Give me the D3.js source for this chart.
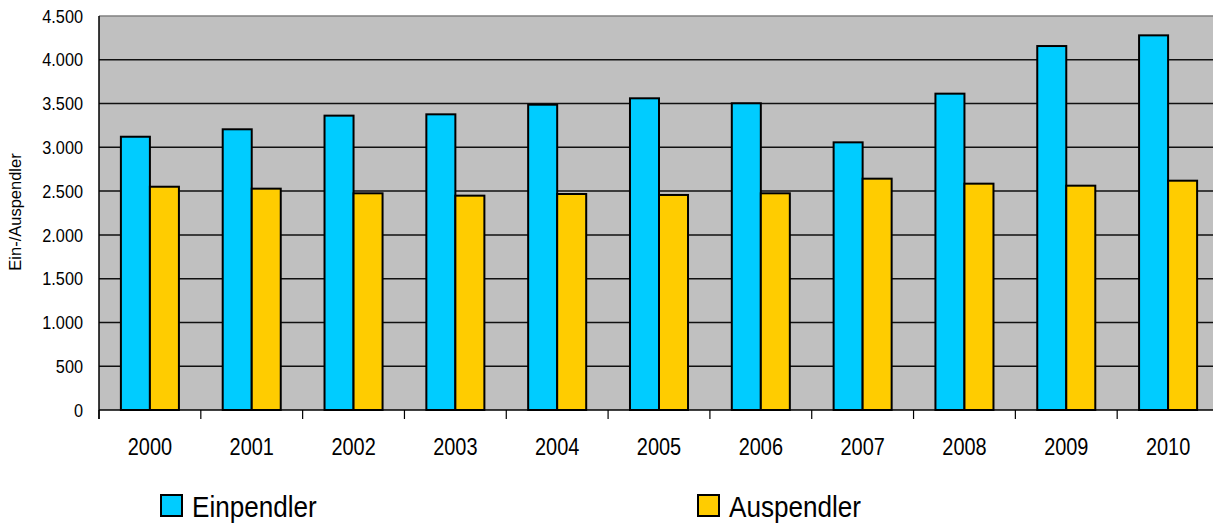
<!DOCTYPE html>
<html>
<head>
<meta charset="utf-8">
<script src="https://cdn.jsdelivr.net/npm/d3@7"></script>
<style>
  html, body { margin: 0; padding: 0; background: #fff; }
  svg { display: block; font-family: "Liberation Sans", Arial, sans-serif; }
</style>
</head>
<body>
<div id="chart"></div>
<script>
const years = ['2000', '2001', '2002', '2003', '2004', '2005', '2006', '2007', '2008', '2009', '2010'];
const series = ['Einpendler', 'Auspendler'];
const einpendler = [3121, 3206, 3362, 3377, 3487, 3560, 3503, 3057, 3613, 4157, 4279];
const auspendler = [2550, 2528, 2475, 2448, 2467, 2456, 2475, 2642, 2585, 2562, 2619];
const yTicks = [0, 500, 1000, 1500, 2000, 2500, 3000, 3500, 4000, 4500];
const colors = ['#00CCFF', '#FFCC00'];

const W = 1213, H = 525;
const margin = { top: 16, left: 99 };
const plotW = 1120, plotH = 394;

const svg = d3.select('#chart').append('svg')
  .attr('width', W).attr('height', H);

const x = d3.scaleBand().domain(years).range([margin.left, margin.left + plotW]);
const xs = d3.scaleBand().domain(series)
  .range([x.bandwidth() * 0.215, x.bandwidth() * 0.785]);
const y = d3.scaleLinear().domain([0, 4500]).range([margin.top + plotH, margin.top]);

const fmt = d => d3.format(',')(d).replace(/,/g, '.');

// the original uses a narrow font, squeeze Liberation Sans to get close
const narrow = (px, py, s) => `translate(${px},${py}) scale(${s},1)`;

// plot background
svg.append('rect')
  .attr('x', margin.left).attr('y', margin.top)
  .attr('width', plotW).attr('height', plotH)
  .attr('fill', '#C0C0C0');

// top border
svg.append('line')
  .attr('x1', margin.left).attr('x2', margin.left + plotW)
  .attr('y1', y(4500)).attr('y2', y(4500))
  .attr('stroke', '#808080').attr('stroke-width', 1.5);

// gridlines
svg.append('g').selectAll('line')
  .data(yTicks.filter(d => d > 0 && d < 4500))
  .join('line')
  .attr('x1', margin.left).attr('x2', margin.left + plotW)
  .attr('y1', d => y(d)).attr('y2', d => y(d))
  .attr('stroke', '#111').attr('stroke-width', 1.5);

// bars
const data = years.map((yr, i) => ({ year: yr, values: [einpendler[i], auspendler[i]] }));
svg.append('g').selectAll('g')
  .data(data)
  .join('g')
  .attr('transform', d => `translate(${x(d.year)},0)`)
  .selectAll('rect')
  .data(d => d.values.map((v, j) => ({ key: series[j], value: v, color: colors[j] })))
  .join('rect')
  .attr('x', d => xs(d.key))
  .attr('y', d => y(d.value))
  .attr('width', xs.bandwidth())
  .attr('height', d => y(0) - y(d.value))
  .attr('fill', d => d.color)
  .attr('stroke', '#000')
  .attr('stroke-width', 2);

// x axis
const xAxis = svg.append('g')
  .attr('transform', `translate(0,${y(0)})`);
xAxis.append('line')
  .attr('x1', margin.left).attr('x2', margin.left + plotW)
  .attr('stroke', '#000').attr('stroke-width', 1.5);
xAxis.selectAll('.tick')
  .data(years.map(d => x(d)))
  .join('line')
  .attr('x1', d => d).attr('x2', d => d)
  .attr('y1', 0).attr('y2', 9)
  .attr('stroke', '#000').attr('stroke-width', 1.2);
xAxis.selectAll('text')
  .data(years)
  .join('text')
  .attr('transform', d => narrow(x(d) + x.bandwidth() / 2, 45, 0.83))
  .attr('text-anchor', 'middle')
  .style('font-size', '24px')
  .attr('fill', '#000')
  .text(d => d);

// y axis
const yAxis = svg.append('g');
yAxis.append('line')
  .attr('x1', margin.left).attr('x2', margin.left)
  .attr('y1', margin.top).attr('y2', y(0) + 9)
  .attr('stroke', '#000').attr('stroke-width', 1.5);
yAxis.selectAll('text')
  .data(yTicks)
  .join('text')
  .attr('transform', d => narrow(83, y(d), 0.88))
  .attr('dy', '0.36em')
  .attr('text-anchor', 'end')
  .style('font-size', '18.5px')
  .attr('fill', '#000')
  .text(fmt);

svg.append('text')
  .attr('transform', 'translate(21,212) rotate(-90)')
  .attr('text-anchor', 'middle')
  .style('font-size', '16.5px')
  .attr('fill', '#000')
  .text('Ein-/Auspendler');

// legend
const legendX = [161, 698];
const legend = svg.append('g').selectAll('g')
  .data(series)
  .join('g')
  .attr('transform', (d, i) => `translate(${legendX[i]},495)`);
legend.append('rect')
  .attr('width', 21).attr('height', 21)
  .attr('fill', (d, i) => colors[i])
  .attr('stroke', '#000').attr('stroke-width', 2);
legend.append('text')
  .attr('transform', narrow(31, 21.5, 0.87))
  .style('font-size', '30px')
  .attr('fill', '#000')
  .text(d => d);
</script>
</body>
</html>
